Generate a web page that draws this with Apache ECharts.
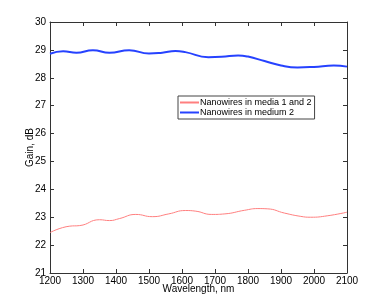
<!DOCTYPE html>
<html><head><meta charset="utf-8">
<script src="https://cdn.jsdelivr.net/npm/echarts@6/dist/echarts.min.js"></script>
<style>html,body{margin:0;padding:0;background:#fff}#c{width:382px;height:308px}</style>
</head><body><div id="c"></div>
<script>
const seriesNames = ["Nanowires in media 1 and 2", "Nanowires in medium 2"];
const redWavelengths = [1200,1260,1290,1350,1380,1410,1460,1510,1560,1610,1640,1690,1730,1790,1830,1860,1910,1960,1990,2040,2100];
const redGain = [22.45,22.68,22.7,22.91,22.88,22.95,23.1,23.02,23.12,23.24,23.22,23.1,23.12,23.25,23.31,23.3,23.15,23.03,23.0,23.05,23.18];
const blueWavelengths = [1200,1240,1280,1330,1380,1440,1500,1540,1580,1610,1680,1720,1770,1800,1850,1900,1950,2000,2060,2100];
const blueGain = [28.86,28.95,28.9,28.99,28.9,28.99,28.87,28.9,28.96,28.92,28.74,28.75,28.8,28.76,28.6,28.44,28.37,28.39,28.44,28.4];
const xTicks = [1200,1300,1400,1500,1600,1700,1800,1900,2000,2100];
const yTicks = [21,22,23,24,25,26,27,28,29,30];

const pair = (xs, ys) => xs.map((x, i) => [x, ys[i]]);
const font = "Liberation Sans, Arial, sans-serif";
const axisColor = "#333";
const chart = echarts.init(document.getElementById('c'), null, {renderer: 'canvas'});
const common = {
  axisLine: {show: true, lineStyle: {color: axisColor, width: 1}},
  axisTick: {show: true, inside: true, length: 4, lineStyle: {color: axisColor}},
  splitLine: {show: false}
};
chart.setOption({
  animation: false,
  grid: {left: 50, right: 35, top: 22, bottom: 35},
  legend: {
    orient: 'vertical', left: 178, top: 96,
    data: seriesNames,
    itemWidth: 19, itemHeight: 2, itemGap: 1,
    padding: [2, 3, 2, 2],
    borderColor: '#444', borderWidth: 1, backgroundColor: '#fff',
    textStyle: {fontFamily: font, fontSize: 9, color: '#000', padding: [0,0,0,-4]},
    icon: 'rect'
  },
  xAxis: [
    Object.assign({type: 'value', min: xTicks[0], max: xTicks[xTicks.length-1], interval: 100,
      name: 'Wavelength, nm', nameLocation: 'middle', nameGap: 11, nameMoveOverlap: false,
      nameTextStyle: {fontFamily: font, fontSize: 10, color: '#000'},
      axisLabel: {fontFamily: font, fontSize: 10, color: '#000', margin: 3, formatter: v => String(v)}}, common),
    Object.assign({type: 'value', position: 'top', min: xTicks[0], max: xTicks[xTicks.length-1], interval: 100,
      axisLabel: {show: false}}, common)
  ],
  yAxis: [
    Object.assign({type: 'value', min: yTicks[0], max: yTicks[yTicks.length-1], interval: 1,
      name: 'Gain, dB', nameLocation: 'middle', nameGap: 15, nameMoveOverlap: false,
      nameTextStyle: {fontFamily: font, fontSize: 10, color: '#000'},
      axisLabel: {fontFamily: font, fontSize: 10, color: '#000', margin: 4, formatter: v => String(v)}}, common),
    Object.assign({type: 'value', position: 'right', min: yTicks[0], max: yTicks[yTicks.length-1], interval: 1,
      axisLabel: {show: false}}, common)
  ],
  series: [
    {name: seriesNames[0], type: 'line', data: pair(redWavelengths, redGain), smooth: 0.5,
     symbol: 'none', itemStyle: {color: '#ff7f7f'}, lineStyle: {color: '#ff7f7f', width: 1}},
    {name: seriesNames[1], type: 'line', data: pair(blueWavelengths, blueGain), smooth: 0.5,
     symbol: 'none', itemStyle: {color: '#2642ff'}, lineStyle: {color: '#2642ff', width: 2}}
  ]
});
</script></body></html>
